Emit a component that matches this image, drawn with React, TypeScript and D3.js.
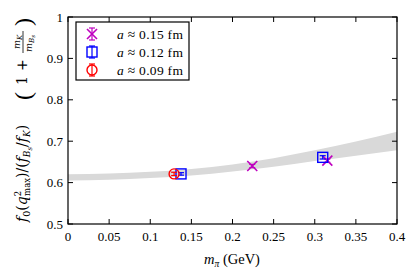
import React from 'react';
import * as d3 from 'd3';

// lattice points, one array per spacing
const mpi015 = [0.224, 0.3153];
const val015 = [0.640, 0.653];
const err015 = [0.004, 0.004];

const mpi012 = [0.1374, 0.3097];
const val012 = [0.621, 0.661];
const err012 = [0.003, 0.004];

const mpi009 = [0.129];
const val009 = [0.621];
const err009 = [0.004];

// fit band
const bandX = [0, 0.05, 0.1, 0.15, 0.2, 0.25, 0.3, 0.35, 0.4];
const bandLo = [0.605, 0.607, 0.611, 0.617, 0.627, 0.638, 0.652, 0.665, 0.678];
const bandHi = [0.620, 0.622, 0.626, 0.633, 0.644, 0.659, 0.678, 0.699, 0.723];

const xTicks = [0, 0.05, 0.1, 0.15, 0.2, 0.25, 0.3, 0.35, 0.4];
const yTicks = [0.5, 0.6, 0.7, 0.8, 0.9, 1];

const legendLabels = ['a ≈ 0.15 fm', 'a ≈ 0.12 fm', 'a ≈ 0.09 fm'];

const W = 416, H = 276;
const m = { left: 68, right: 19, top: 17, bottom: 52 };
const font = 'Liberation Serif, DejaVu Serif, serif';
const MAG = '#bf00bf', BLUE = '#0000ff', RED = '#ff0000';

const Cross = ({ x, y, c }: any) => (
  <g stroke={c} strokeWidth={1.6} fill="none">
    <line x1={x - 5} y1={y - 5} x2={x + 5} y2={y + 5} />
    <line x1={x - 5} y1={y + 5} x2={x + 5} y2={y - 5} />
  </g>
);
const Square = ({ x, y, c }: any) => (
  <rect x={x - 5} y={y - 5} width={10} height={10} stroke={c} strokeWidth={1.4} fill="none" />
);
const Circle = ({ x, y, c }: any) => (
  <circle cx={x} cy={y} r={5} stroke={c} strokeWidth={1.4} fill="none" />
);

const ErrBar = ({ x, y0, y1, c }: any) => (
  <g stroke={c} strokeWidth={1.2}>
    <line x1={x} x2={x} y1={y0} y2={y1} />
    <line x1={x - 3} x2={x + 3} y1={y0} y2={y0} />
    <line x1={x - 3} x2={x + 3} y1={y1} y2={y1} />
  </g>
);

export default () => {
  const x = d3.scaleLinear().domain([0, 0.4]).range([m.left, W - m.right]);
  const y = d3.scaleLinear().domain([0.5, 1]).range([H - m.bottom, m.top]);

  const area = d3.area<number>()
    .x((_, i) => x(bandX[i]))
    .y0((_, i) => y(bandLo[i]))
    .y1((_, i) => y(bandHi[i]))
    .curve(d3.curveMonotoneX);

  const series = [
    { xs: mpi015, vs: val015, es: err015, c: MAG, M: Cross },
    { xs: mpi012, vs: val012, es: err012, c: BLUE, M: Square },
    { xs: mpi009, vs: val009, es: err009, c: RED, M: Circle },
  ];

  const x0 = m.left, x1 = W - m.right, y0 = H - m.bottom, y1 = m.top;
  const tl = 5;

  return (
    <svg width={W} height={H} style={{ position: 'absolute', left: 0, top: 0 }} fontFamily={font}>
      <rect width={W} height={H} fill="#fff" />
      <path d={area(bandX) || ''} fill="#d9d9d9" stroke="none" />

      {series.map((s, si) =>
        s.xs.map((xv, i) => (
          <g key={si + '-' + i}>
            <ErrBar x={x(xv)} y0={y(s.vs[i] - s.es[i])} y1={y(s.vs[i] + s.es[i])} c={s.c} />
            <s.M x={x(xv)} y={y(s.vs[i])} c={s.c} />
          </g>
        ))
      )}

      {/* ticks, all sides, inward */}
      {xTicks.map((t) => (
        <g key={'x' + t} stroke="#000" strokeWidth={1}>
          <line x1={x(t)} x2={x(t)} y1={y0} y2={y0 - tl} />
          <line x1={x(t)} x2={x(t)} y1={y1} y2={y1 + tl} />
        </g>
      ))}
      {yTicks.map((t) => (
        <g key={'y' + t} stroke="#000" strokeWidth={1}>
          <line x1={x0} x2={x0 + tl} y1={y(t)} y2={y(t)} />
          <line x1={x1} x2={x1 - tl} y1={y(t)} y2={y(t)} />
        </g>
      ))}
      <rect x={x0} y={y1} width={x1 - x0} height={y0 - y1} fill="none" stroke="#000" strokeWidth={1.2} />

      {xTicks.map((t) => (
        <text key={'xl' + t} x={x(t)} y={y0 + 17} fontSize={13} textAnchor="middle">{String(t)}</text>
      ))}
      {yTicks.map((t) => (
        <text key={'yl' + t} x={x0 - 5} y={y(t) + 4.5} fontSize={13} textAnchor="end">{String(t)}</text>
      ))}

      {/* x label */}
      <text x={232} y={264} fontSize={14.5} textAnchor="middle">
        <tspan fontStyle="italic">m</tspan>
        <tspan fontStyle="italic" fontSize={9.5} dy={3}>π</tspan>
        <tspan dy={-3}> (GeV)</tspan>
      </text>

      {/* y label */}
      <g transform="translate(27,222) rotate(-90)" fontSize={14} fontFamily="DejaVu Serif, serif">
        <text x={0} y={0}>
          <tspan fontStyle="italic">f</tspan>
          <tspan fontSize={9.5} dy={3}>0</tspan>
          <tspan dy={-3}>(</tspan>
          <tspan fontStyle="italic">q</tspan>
          <tspan fontSize={8.5} dy={-6}>2</tspan>
          <tspan fontSize={8.5} dy={9} dx={-5}>max</tspan>
          <tspan dy={-3}>)/(</tspan>
          <tspan fontStyle="italic">f</tspan>
          <tspan fontStyle="italic" fontSize={9} dy={3}>B</tspan>
          <tspan fontStyle="italic" fontSize={7} dy={1.5}>s</tspan>
          <tspan dy={-4.5}>/</tspan>
          <tspan fontStyle="italic">f</tspan>
          <tspan fontStyle="italic" fontSize={9} dy={3}>K</tspan>
          <tspan dy={-3}>)</tspan>
        </text>
        <text x={122} y={4} fontSize={24} fontFamily={font}>(</text>
        <text x={137} y={0}>1</text>
        <text x={151} y={0}>+</text>
        <line x1={169} x2={191} y1={-4} y2={-4} stroke="#000" strokeWidth={0.8} />
        <text x={173} y={-7} fontSize={9.5}>
          <tspan fontStyle="italic">m</tspan>
          <tspan fontStyle="italic" fontSize={7} dy={1.5}>K</tspan>
        </text>
        <text x={170} y={5} fontSize={9.5}>
          <tspan fontStyle="italic">m</tspan>
          <tspan fontStyle="italic" fontSize={7} dy={1.5}>B</tspan>
          <tspan fontStyle="italic" fontSize={5.5} dy={1}>s</tspan>
        </text>
        <text x={196} y={4} fontSize={24} fontFamily={font}>)</text>
      </g>

      {/* legend */}
      <rect x={76} y={22} width={113} height={58} fill="#fff" stroke="#000" strokeWidth={1.2} />
      {series.map((s, i) => {
        const ly = 34 + i * 18;
        return (
          <g key={'lg' + i}>
            <ErrBar x={92} y0={ly - 6} y1={ly + 6} c={s.c} />
            <s.M x={92} y={ly} c={s.c} />
            <text x={117} y={ly + 4.5} fontSize={13.5} letterSpacing={0.3}>
              <tspan fontStyle="italic">a</tspan>
              <tspan>{legendLabels[i].slice(1)}</tspan>
            </text>
          </g>
        );
      })}
    </svg>
  );
};
